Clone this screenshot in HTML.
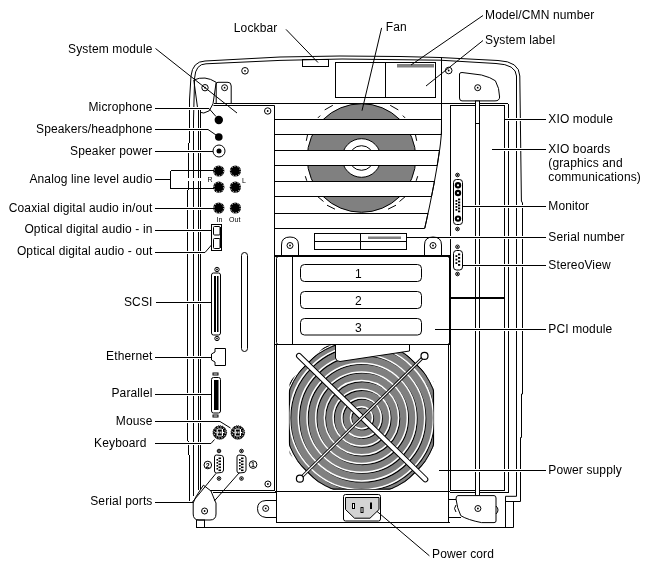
<!DOCTYPE html>
<html><head><meta charset="utf-8"><style>
html,body{margin:0;padding:0;background:#fff;}
svg{display:block;will-change:transform;}
text{font-family:"Liberation Sans",sans-serif;fill:#000;letter-spacing:0.13px;}
</style></head><body>
<svg width="650" height="568" viewBox="0 0 650 568">
<rect x="0" y="0" width="650" height="568" fill="#fff"/>
<path d="M189.5,100 L189.5,143 M188.5,143 L188.5,190 M187.5,190 L187.5,441 M188.5,441 L188.5,455 M189.5,455 L189.5,501" stroke="#000" fill="none" stroke-width="1" shape-rendering="crispEdges"/>
<path d="M189.5,100 L191,76 Q192.5,61.5 205,61 L280,57 L340,56 L400,56.5 L440,57.5 L498,60.5 Q519.5,61.5 519.8,76 L521.4,201 L522.5,203 L522.5,394 L521.5,394 L521.5,437.5 L520.5,437.5 L520.5,501.5 L505.5,501.5 M513.5,501.5 L513.5,527.5 L196.5,527.5" fill="none" stroke="#000" stroke-width="1" />
<path d="M193.5,496 L193.5,120 L194.6,78 Q195.5,64 206,63.8 L280,60.4 L342,59 L440,60.2 L496,63.5 Q516,64.5 516.5,76 L516.5,496.3" fill="none" stroke="#000" stroke-width="1" />
<path d="M516.5,496.3 L505.5,496.3 L505.5,527.5" fill="none" stroke="#000" stroke-width="1" />
<line x1="198.5" y1="107.5" x2="198.5" y2="490" stroke="#000" stroke-width="1" shape-rendering="crispEdges"/>
<line x1="200.5" y1="107.5" x2="200.5" y2="490" stroke="#000" stroke-width="1" shape-rendering="crispEdges"/>
<rect x="302.5" y="59.5" width="26" height="7" rx="0" fill="none" stroke="#000" stroke-width="1" />
<rect x="335.5" y="62.5" width="50" height="35" rx="0" fill="none" stroke="#000" stroke-width="1" />
<rect x="385.5" y="62.5" width="50" height="35" rx="0" fill="none" stroke="#000" stroke-width="1" />
<rect x="397" y="64" width="37" height="3.5" fill="#808080"/>
<circle cx="245" cy="70.8" r="3.3" fill="none" stroke="#000" stroke-width="1"/>
<circle cx="245" cy="70.8" r="0.9" fill="#000" stroke="#000" stroke-width="0"/>
<circle cx="448.7" cy="70.5" r="3.3" fill="none" stroke="#000" stroke-width="1"/>
<circle cx="448.7" cy="70.5" r="0.9" fill="#000" stroke="#000" stroke-width="0"/>
<line x1="213.5" y1="103.5" x2="508" y2="103.5" stroke="#000" stroke-width="1" shape-rendering="crispEdges"/>
<path d="M459.5,74 Q459.5,72.5 462,72.5 L481.5,75 Q491,77.5 495.4,80.8 Q499.5,88 499.6,97 Q499.5,100.9 495,100.9 L462,100.9 Q459.5,100.9 459.5,98 Z" fill="#fff" stroke="#000" stroke-width="1" />
<circle cx="477.7" cy="87.7" r="3" fill="none" stroke="#000" stroke-width="1"/>
<circle cx="477.7" cy="87.7" r="0.9" fill="#000" stroke="#000" stroke-width="0"/>
<circle cx="361.5" cy="158" r="54.3" fill="#808080" stroke="#000" stroke-width="1"/>
<line x1="324.7" y1="109.9" x2="332.8" y2="105.3" stroke="#000" stroke-width="1"/>
<line x1="398.3" y1="109.9" x2="390.2" y2="105.3" stroke="#000" stroke-width="1"/>
<line x1="317.9" y1="117.9" x2="320.2" y2="115.6" stroke="#000" stroke-width="1"/>
<line x1="405.1" y1="117.9" x2="402.8" y2="115.6" stroke="#000" stroke-width="1"/>
<line x1="307.5" y1="135" x2="306.3" y2="140.8" stroke="#000" stroke-width="1"/>
<line x1="415.5" y1="135" x2="416.7" y2="140.8" stroke="#000" stroke-width="1"/>
<line x1="305.3" y1="176.2" x2="306.8" y2="180.8" stroke="#000" stroke-width="1"/>
<line x1="417.7" y1="176.2" x2="416.2" y2="180.8" stroke="#000" stroke-width="1"/>
<line x1="316.7" y1="195.7" x2="323.5" y2="201.5" stroke="#000" stroke-width="1"/>
<line x1="406.3" y1="195.7" x2="399.5" y2="201.5" stroke="#000" stroke-width="1"/>
<line x1="327" y1="205.2" x2="335" y2="209.2" stroke="#000" stroke-width="1"/>
<line x1="396" y1="205.2" x2="388" y2="209.2" stroke="#000" stroke-width="1"/>
<circle cx="361.5" cy="158" r="19.3" fill="#fff" stroke="#000" stroke-width="1"/>
<circle cx="361.5" cy="158" r="12.3" fill="none" stroke="#000" stroke-width="1"/>
<path d="M275,119.5 L441.5,119.5 L441.4,134.5 L275,134.5" fill="#fff" stroke="#000" stroke-width="1" />
<path d="M275,150.5 L439.5,150.5 L437.2,165.5 L275,165.5" fill="#fff" stroke="#000" stroke-width="1" />
<path d="M275,181.5 L434.4,181.5 L431.5,196.5 L275,196.5" fill="#fff" stroke="#000" stroke-width="1" />
<path d="M275,213.5 L428.0,213.5 L424.7,228.5 L275,228.5" fill="#fff" stroke="#000" stroke-width="1" />
<path d="M441.5,57.5 L441.5,132 L441.5,132.0 L441.2,136.0 L440.8,140.0 L440.4,144.0 L439.9,148.0 L439.3,152.0 L438.7,156.0 L438.1,160.0 L437.5,164.0 L436.8,168.0 L436.1,172.0 L435.4,176.0 L434.7,180.0 L434.0,184.0 L433.2,188.0 L432.4,192.0 L431.6,196.0 L430.8,200.0 L430.0,204.0 L429.2,208.0 L428.3,212.0 L427.4,216.0 L426.6,220.0 L425.7,224.0 L424.8,228.0" fill="none" stroke="#000" stroke-width="1" />
<path d="M213.5,105.5 L274.5,105.5 L274.5,490.5 L202,490.5" fill="none" stroke="#000" stroke-width="1" />
<circle cx="267.7" cy="111" r="3.2" fill="none" stroke="#000" stroke-width="1"/>
<circle cx="267.7" cy="111" r="0.9" fill="#000" stroke="#000" stroke-width="0"/>
<line x1="193.8" y1="80" x2="197.5" y2="107.5" stroke="#000" stroke-width="1"/>
<path d="M193.8,80 Q205,75 216.2,82.3 L213,103.8 L209.2,110.8 L203.8,113 L200,112.3" fill="none" stroke="#000" stroke-width="1" />
<circle cx="205" cy="87.7" r="3.2" fill="none" stroke="#000" stroke-width="1"/>
<circle cx="205" cy="87.7" r="0.9" fill="#000" stroke="#000" stroke-width="0"/>
<path d="M216.2,103 L216.2,84 Q216.2,82.3 218,82.3 L228,82.3 Q231.2,82.3 231.2,86 L231.2,103" fill="none" stroke="#000" stroke-width="1" />
<circle cx="224.6" cy="87.7" r="3" fill="none" stroke="#000" stroke-width="1"/>
<circle cx="224.6" cy="87.7" r="0.9" fill="#000" stroke="#000" stroke-width="0"/>
<circle cx="218.8" cy="120" r="4.2" fill="#000" stroke="#000" stroke-width="0"/>
<circle cx="218.8" cy="137" r="3.8" fill="#000" stroke="#000" stroke-width="0"/>
<circle cx="219" cy="151" r="6" fill="#fff" stroke="#000" stroke-width="1"/>
<circle cx="219" cy="151" r="2.5" fill="#000" stroke="#000" stroke-width="0"/>
<circle cx="218.8" cy="171" r="5.6" fill="#000" stroke="#000" stroke-width="0"/>
<circle cx="218.8" cy="171" r="4.8" fill="none" stroke="#fff" stroke-width="0.9" stroke-dasharray="1.2 1.8"/>
<circle cx="235.4" cy="171" r="5.6" fill="#000" stroke="#000" stroke-width="0"/>
<circle cx="235.4" cy="171" r="4.8" fill="none" stroke="#fff" stroke-width="0.9" stroke-dasharray="1.2 1.8"/>
<circle cx="218.8" cy="187.2" r="5.6" fill="#000" stroke="#000" stroke-width="0"/>
<circle cx="218.8" cy="187.2" r="4.8" fill="none" stroke="#fff" stroke-width="0.9" stroke-dasharray="1.2 1.8"/>
<circle cx="235.4" cy="187.2" r="5.6" fill="#000" stroke="#000" stroke-width="0"/>
<circle cx="235.4" cy="187.2" r="4.8" fill="none" stroke="#fff" stroke-width="0.9" stroke-dasharray="1.2 1.8"/>
<circle cx="218.8" cy="208" r="5.6" fill="#000" stroke="#000" stroke-width="0"/>
<circle cx="218.8" cy="208" r="4.8" fill="none" stroke="#fff" stroke-width="0.9" stroke-dasharray="1.2 1.8"/>
<circle cx="235.4" cy="208" r="5.6" fill="#000" stroke="#000" stroke-width="0"/>
<circle cx="235.4" cy="208" r="4.8" fill="none" stroke="#fff" stroke-width="0.9" stroke-dasharray="1.2 1.8"/>
<g>
<text x="207.5" y="182" text-anchor="start" font-size="7">R</text>
<text x="242" y="182.5" text-anchor="start" font-size="7">L</text>
<text x="216.5" y="221.5" text-anchor="start" font-size="7">In</text>
<text x="229" y="221.5" text-anchor="start" font-size="7">Out</text>
</g>
<rect x="211.5" y="224.5" width="10" height="26" rx="0" fill="none" stroke="#000" stroke-width="1" />
<rect x="213.5" y="226.5" width="6.5" height="8.5" rx="1" fill="none" stroke="#000" stroke-width="1" />
<rect x="213.5" y="238.5" width="6.5" height="10" rx="1" fill="none" stroke="#000" stroke-width="1" />
<line x1="220.5" y1="227" x2="220.5" y2="248" stroke="#000" stroke-width="1" shape-rendering="crispEdges"/>
<rect x="241.5" y="252.5" width="6" height="99" rx="3" fill="none" stroke="#000" stroke-width="1" />
<rect x="211.5" y="273" width="9" height="62" rx="2" fill="none" stroke="#000" stroke-width="1" />
<rect x="214" y="276" width="2" height="56" fill="#000"/>
<rect x="217" y="276" width="1.5" height="56" fill="#000"/>
<circle cx="217" cy="269.5" r="2.2" fill="none" stroke="#000" stroke-width="1"/>
<circle cx="217" cy="269.5" r="0.9" fill="#000" stroke="#000" stroke-width="0"/>
<circle cx="217" cy="338.5" r="2.2" fill="none" stroke="#000" stroke-width="1"/>
<circle cx="217" cy="338.5" r="0.9" fill="#000" stroke="#000" stroke-width="0"/>
<path d="M225.5,348.5 L215,348.5 L215,352 L211.5,354 L211.5,360 L215,362 L215,365.5 L225.5,365.5 Z" fill="none" stroke="#000" stroke-width="1" />
<rect x="211.5" y="377.5" width="9" height="35.5" rx="2" fill="none" stroke="#000" stroke-width="1" />
<rect x="214" y="380" width="4.5" height="30" fill="#000"/>
<rect x="213" y="373" width="5" height="2" rx="0" fill="none" stroke="#000" stroke-width="1" />
<rect x="213" y="415" width="5" height="2" rx="0" fill="none" stroke="#000" stroke-width="1" />
<circle cx="219.8" cy="432.5" r="6.8" fill="#000" stroke="#000" stroke-width="1" stroke-dasharray="1 1"/>
<circle cx="219.8" cy="432.5" r="5.6" fill="none" stroke="#fff" stroke-width="0.9" stroke-dasharray="1.3 1.6"/>
<rect x="216.6" y="429.0" width="1.2" height="7" fill="#fff"/>
<rect x="221.8" y="429.0" width="1.2" height="7" fill="#fff"/>
<rect x="217.8" y="428.5" width="4" height="1" fill="#fff"/>
<rect x="217.8" y="435.5" width="4" height="1" fill="#fff"/>
<rect x="218.2" y="431.5" width="1.2" height="2" fill="#fff"/>
<rect x="220.2" y="431.5" width="1.2" height="2" fill="#fff"/>
<rect x="215.3" y="431.9" width="1.3" height="1.2" fill="#fff"/>
<rect x="223.0" y="431.9" width="1.3" height="1.2" fill="#fff"/>
<circle cx="237.8" cy="432.5" r="6.8" fill="#000" stroke="#000" stroke-width="1" stroke-dasharray="1 1"/>
<circle cx="237.8" cy="432.5" r="5.6" fill="none" stroke="#fff" stroke-width="0.9" stroke-dasharray="1.3 1.6"/>
<rect x="234.6" y="429.0" width="1.2" height="7" fill="#fff"/>
<rect x="239.8" y="429.0" width="1.2" height="7" fill="#fff"/>
<rect x="235.8" y="428.5" width="4" height="1" fill="#fff"/>
<rect x="235.8" y="435.5" width="4" height="1" fill="#fff"/>
<rect x="236.2" y="431.5" width="1.2" height="2" fill="#fff"/>
<rect x="238.2" y="431.5" width="1.2" height="2" fill="#fff"/>
<rect x="233.3" y="431.9" width="1.3" height="1.2" fill="#fff"/>
<rect x="241.0" y="431.9" width="1.3" height="1.2" fill="#fff"/>
<path d="M214.5,457 Q214.5,455 216.5,455 L221.5,455.5 Q223.5,456 223.5,458 L223.5,470 Q223.5,472 221.5,472.5 L216.5,473 Q214.5,473 214.5,471 Z" fill="none" stroke="#000" stroke-width="1" />
<rect x="218.5" y="457.5" width="2.5" height="1.6" fill="#000"/>
<rect x="218.5" y="460.5" width="2.5" height="1.6" fill="#000"/>
<rect x="218.5" y="463.5" width="2.5" height="1.6" fill="#000"/>
<rect x="218.5" y="466.5" width="2.5" height="1.6" fill="#000"/>
<rect x="218.5" y="469.5" width="2.5" height="1.6" fill="#000"/>
<rect x="216.5" y="459" width="1.6" height="1.6" fill="#000"/>
<rect x="216.5" y="462" width="1.6" height="1.6" fill="#000"/>
<rect x="216.5" y="465" width="1.6" height="1.6" fill="#000"/>
<rect x="216.5" y="468" width="1.6" height="1.6" fill="#000"/>
<circle cx="219" cy="451" r="1.8" fill="none" stroke="#000" stroke-width="1"/>
<circle cx="219" cy="451" r="0.9" fill="#000" stroke="#000" stroke-width="0"/>
<circle cx="219" cy="478.5" r="1.8" fill="none" stroke="#000" stroke-width="1"/>
<circle cx="219" cy="478.5" r="0.9" fill="#000" stroke="#000" stroke-width="0"/>
<path d="M237.0,457 Q237.0,455 239.0,455 L244.0,455.5 Q246.0,456 246.0,458 L246.0,470 Q246.0,472 244.0,472.5 L239.0,473 Q237.0,473 237.0,471 Z" fill="none" stroke="#000" stroke-width="1" />
<rect x="241.0" y="457.5" width="2.5" height="1.6" fill="#000"/>
<rect x="241.0" y="460.5" width="2.5" height="1.6" fill="#000"/>
<rect x="241.0" y="463.5" width="2.5" height="1.6" fill="#000"/>
<rect x="241.0" y="466.5" width="2.5" height="1.6" fill="#000"/>
<rect x="241.0" y="469.5" width="2.5" height="1.6" fill="#000"/>
<rect x="239.0" y="459" width="1.6" height="1.6" fill="#000"/>
<rect x="239.0" y="462" width="1.6" height="1.6" fill="#000"/>
<rect x="239.0" y="465" width="1.6" height="1.6" fill="#000"/>
<rect x="239.0" y="468" width="1.6" height="1.6" fill="#000"/>
<circle cx="241.5" cy="451" r="1.8" fill="none" stroke="#000" stroke-width="1"/>
<circle cx="241.5" cy="451" r="0.9" fill="#000" stroke="#000" stroke-width="0"/>
<circle cx="241.5" cy="478.5" r="1.8" fill="none" stroke="#000" stroke-width="1"/>
<circle cx="241.5" cy="478.5" r="0.9" fill="#000" stroke="#000" stroke-width="0"/>
<circle cx="207.8" cy="465" r="3.8" fill="none" stroke="#000" stroke-width="1"/>
<text x="207.8" y="467.5" text-anchor="middle" font-size="7" font-weight="bold">2</text>
<circle cx="253.1" cy="464.6" r="3.8" fill="none" stroke="#000" stroke-width="1"/>
<text x="253.1" y="467.1" text-anchor="middle" font-size="7" font-weight="bold">1</text>
<circle cx="267.9" cy="484" r="3" fill="none" stroke="#000" stroke-width="1"/>
<circle cx="267.9" cy="484" r="0.9" fill="#000" stroke="#000" stroke-width="0"/>
<path d="M195.6,497.3 L203.4,485.2 L211,491 L215,501 L216,503 L216,514 Q216,520 210,520 L199,520 Q193.2,520 193.2,514 L193.2,503 Z" fill="#fff" stroke="#000" stroke-width="1" />
<circle cx="204.6" cy="511" r="3" fill="none" stroke="#000" stroke-width="1"/>
<circle cx="204.6" cy="511" r="0.9" fill="#000" stroke="#000" stroke-width="0"/>
<rect x="196.5" y="520" width="8" height="7.5" rx="0" fill="none" stroke="#000" stroke-width="1" />
<line x1="213" y1="492.5" x2="276" y2="492.5" stroke="#000" stroke-width="1" shape-rendering="crispEdges"/>
<rect x="314.5" y="233.5" width="92" height="16" rx="0" fill="none" stroke="#000" stroke-width="1" />
<line x1="314.5" y1="241.5" x2="406.5" y2="241.5" stroke="#000" stroke-width="1" shape-rendering="crispEdges"/>
<line x1="360.5" y1="233.5" x2="360.5" y2="249.5" stroke="#000" stroke-width="1" shape-rendering="crispEdges"/>
<rect x="368" y="236.5" width="33" height="2.5" fill="#808080"/>
<path d="M281.5,255 L281.5,245 Q281.5,237 290,237 Q298.5,237 298.5,245 L298.5,255" fill="#fff" stroke="#000" stroke-width="1" />
<circle cx="290" cy="245.5" r="3" fill="none" stroke="#000" stroke-width="1"/>
<circle cx="290" cy="245.5" r="0.9" fill="#000" stroke="#000" stroke-width="0"/>
<path d="M424.5,255 L424.5,245 Q424.5,237 433,237 Q441.5,237 441.5,245 L441.5,255" fill="#fff" stroke="#000" stroke-width="1" />
<circle cx="433" cy="245.5" r="3" fill="none" stroke="#000" stroke-width="1"/>
<circle cx="433" cy="245.5" r="0.9" fill="#000" stroke="#000" stroke-width="0"/>
<line x1="274.5" y1="256" x2="449.5" y2="256" stroke="#000" stroke-width="2" shape-rendering="crispEdges"/>
<rect x="276.5" y="256.5" width="173" height="88" rx="2" fill="none" stroke="#000" stroke-width="1" />
<line x1="292.5" y1="256" x2="292.5" y2="344" stroke="#000" stroke-width="1" shape-rendering="crispEdges"/>
<rect x="300.5" y="264.5" width="121" height="17.0" rx="4" fill="none" stroke="#000" stroke-width="1" />
<text x="358.5" y="278.0" text-anchor="middle" font-size="12">1</text>
<rect x="300.5" y="291.5" width="121" height="17.0" rx="4" fill="none" stroke="#000" stroke-width="1" />
<text x="358.5" y="305.0" text-anchor="middle" font-size="12">2</text>
<rect x="300.5" y="318.5" width="121" height="16.5" rx="4" fill="none" stroke="#000" stroke-width="1" />
<text x="358.5" y="331.75" text-anchor="middle" font-size="12">3</text>
<line x1="274.5" y1="344.5" x2="449.5" y2="344.5" stroke="#000" stroke-width="1" shape-rendering="crispEdges"/>
<line x1="274.5" y1="255" x2="274.5" y2="490.5" stroke="#000" stroke-width="1" shape-rendering="crispEdges"/>
<line x1="450" y1="255" x2="450" y2="344" stroke="#000" stroke-width="2" shape-rendering="crispEdges"/>
<line x1="448.5" y1="344" x2="448.5" y2="522.5" stroke="#000" stroke-width="1" shape-rendering="crispEdges"/>
<line x1="276.5" y1="344" x2="276.5" y2="522.5" stroke="#000" stroke-width="1" shape-rendering="crispEdges"/>
<defs><clipPath id="psclip"><polygon points="325.5,345.5 397.5,345.5 433.5,381.5 433.5,453.9 398.2,489.2 324.8,489.2 289.5,453.9 289.5,381.5"/></clipPath><clipPath id="psclip2"><circle cx="361.5" cy="417.7" r="77.5"/></clipPath></defs>
<g clip-path="url(#psclip2)"><polygon points="325.5,345.5 397.5,345.5 433.5,381.5 433.5,453.9 398.2,489.2 324.8,489.2 289.5,453.9 289.5,381.5" fill="#808080" stroke="#000" stroke-width="1.2"/></g>
<circle cx="361.5" cy="417.7" r="77" fill="none" stroke="#000" stroke-width="1" clip-path="url(#psclip)"/>
<g clip-path="url(#psclip)">
<circle cx="362.6" cy="418.8" r="11.0" fill="none" stroke="#000" stroke-width="1.1"/>
<circle cx="361.5" cy="417.7" r="11.0" fill="none" stroke="#fff" stroke-width="1.5"/>
<circle cx="362.6" cy="418.8" r="19.7" fill="none" stroke="#000" stroke-width="1.1"/>
<circle cx="361.5" cy="417.7" r="19.7" fill="none" stroke="#fff" stroke-width="1.5"/>
<circle cx="362.6" cy="418.8" r="28.4" fill="none" stroke="#000" stroke-width="1.1"/>
<circle cx="361.5" cy="417.7" r="28.4" fill="none" stroke="#fff" stroke-width="1.5"/>
<circle cx="362.6" cy="418.8" r="37.1" fill="none" stroke="#000" stroke-width="1.1"/>
<circle cx="361.5" cy="417.7" r="37.1" fill="none" stroke="#fff" stroke-width="1.5"/>
<circle cx="362.6" cy="418.8" r="45.8" fill="none" stroke="#000" stroke-width="1.1"/>
<circle cx="361.5" cy="417.7" r="45.8" fill="none" stroke="#fff" stroke-width="1.5"/>
<circle cx="362.6" cy="418.8" r="54.5" fill="none" stroke="#000" stroke-width="1.1"/>
<circle cx="361.5" cy="417.7" r="54.5" fill="none" stroke="#fff" stroke-width="1.5"/>
<circle cx="362.6" cy="418.8" r="63.2" fill="none" stroke="#000" stroke-width="1.1"/>
<circle cx="361.5" cy="417.7" r="63.2" fill="none" stroke="#fff" stroke-width="1.5"/>
<circle cx="362.6" cy="418.8" r="71.9" fill="none" stroke="#000" stroke-width="1.1"/>
<circle cx="361.5" cy="417.7" r="71.9" fill="none" stroke="#fff" stroke-width="1.5"/>
<circle cx="362.6" cy="418.8" r="80.6" fill="none" stroke="#000" stroke-width="1.1"/>
<circle cx="361.5" cy="417.7" r="80.6" fill="none" stroke="#fff" stroke-width="1.5"/>
</g>
<path d="M335.5,345 L335.5,358 Q336,361.5 340,361.5 L409.5,351 L409.5,345" fill="#fff" stroke="#000" stroke-width="1" />
<line x1="299" y1="355.9" x2="425.3" y2="479.3" stroke="#000" stroke-width="6" stroke-linecap="round"/>
<line x1="299" y1="355.9" x2="425.3" y2="479.3" stroke="#fff" stroke-width="4" stroke-linecap="round"/>
<line x1="424.5" y1="355.9" x2="299.9" y2="478.7" stroke="#000" stroke-width="3"/>
<line x1="424.5" y1="355.9" x2="299.9" y2="478.7" stroke="#fff" stroke-width="1.2"/>
<circle cx="424.5" cy="355.9" r="3.5" fill="#fff" stroke="#000" stroke-width="1.2"/>
<circle cx="299.9" cy="478.7" r="3.5" fill="#fff" stroke="#000" stroke-width="1.2"/>
<line x1="274.5" y1="491.5" x2="449.5" y2="491.5" stroke="#000" stroke-width="1" shape-rendering="crispEdges"/>
<line x1="276.5" y1="522.5" x2="449.5" y2="522.5" stroke="#000" stroke-width="1" shape-rendering="crispEdges"/>
<path d="M276,500.5 L266,500.5 Q257.5,501 257.5,508.6 Q257.5,516.5 266,517.5 L276,517.5" fill="#fff" stroke="#000" stroke-width="1" />
<circle cx="265.7" cy="508.4" r="3" fill="none" stroke="#000" stroke-width="1"/>
<circle cx="265.7" cy="508.4" r="0.9" fill="#000" stroke="#000" stroke-width="0"/>
<rect x="343.5" y="494.5" width="37" height="26.5" rx="2" fill="none" stroke="#000" stroke-width="1" />
<path d="M345.5,497.5 L379,497.5 L379,509.5 L370,518.2 L354.5,518.2 L345.5,509.5 Z" fill="#d4d4d4" stroke="#000" stroke-width="1" />
<rect x="352.5" y="503.5" width="2" height="5" fill="#fff" stroke="#000" stroke-width="1"/>
<rect x="361" y="507.5" width="2" height="5" fill="#fff" stroke="#000" stroke-width="1"/>
<rect x="370" y="502.5" width="2" height="6.5" fill="#000"/>
<rect x="450.5" y="105.5" width="54" height="385" rx="0" fill="none" stroke="#000" stroke-width="1" />
<line x1="508.5" y1="103.5" x2="508.5" y2="492.5" stroke="#000" stroke-width="1" shape-rendering="crispEdges"/>
<line x1="449.5" y1="492.5" x2="508.5" y2="492.5" stroke="#000" stroke-width="1" shape-rendering="crispEdges"/>
<rect x="475.5" y="101" width="4" height="394.5" fill="#fff" stroke="#000" stroke-width="1"/>
<line x1="450.5" y1="298" x2="504.5" y2="298" stroke="#000" stroke-width="2" shape-rendering="crispEdges"/>
<line x1="475.5" y1="123.5" x2="479.5" y2="123.5" stroke="#000" stroke-width="1" shape-rendering="crispEdges"/>
<rect x="453.5" y="179.5" width="9" height="45" rx="3" fill="none" stroke="#000" stroke-width="1" />
<circle cx="458" cy="185.3" r="3.2" fill="#000" stroke="#000" stroke-width="0"/>
<circle cx="458" cy="185.3" r="1.1" fill="#fff" stroke="#000" stroke-width="0"/>
<circle cx="458" cy="193" r="3.2" fill="#000" stroke="#000" stroke-width="0"/>
<circle cx="458" cy="193" r="1.1" fill="#fff" stroke="#000" stroke-width="0"/>
<circle cx="458" cy="218.6" r="3.2" fill="#000" stroke="#000" stroke-width="0"/>
<circle cx="458" cy="218.6" r="1.1" fill="#fff" stroke="#000" stroke-width="0"/>
<rect x="458" y="198.5" width="2.2" height="1.8" fill="#000"/>
<rect x="458" y="201.5" width="2.2" height="1.8" fill="#000"/>
<rect x="458" y="204.5" width="2.2" height="1.8" fill="#000"/>
<rect x="458" y="207.5" width="2.2" height="1.8" fill="#000"/>
<rect x="458" y="210.5" width="2.2" height="1.8" fill="#000"/>
<rect x="455.5" y="200" width="1.8" height="1.8" fill="#000"/>
<rect x="455.5" y="203" width="1.8" height="1.8" fill="#000"/>
<rect x="455.5" y="206" width="1.8" height="1.8" fill="#000"/>
<rect x="455.5" y="209" width="1.8" height="1.8" fill="#000"/>
<circle cx="457.5" cy="175" r="1.8" fill="none" stroke="#000" stroke-width="1"/>
<circle cx="457.5" cy="175" r="0.9" fill="#000" stroke="#000" stroke-width="0"/>
<circle cx="457.5" cy="229" r="1.8" fill="none" stroke="#000" stroke-width="1"/>
<circle cx="457.5" cy="229" r="0.9" fill="#000" stroke="#000" stroke-width="0"/>
<rect x="453.5" y="250.5" width="9" height="19.5" rx="3" fill="none" stroke="#000" stroke-width="1" />
<rect x="458" y="253.5" width="2.2" height="1.8" fill="#000"/>
<rect x="458" y="257.0" width="2.2" height="1.8" fill="#000"/>
<rect x="458" y="260.5" width="2.2" height="1.8" fill="#000"/>
<rect x="458" y="264.0" width="2.2" height="1.8" fill="#000"/>
<rect x="455.5" y="255.2" width="1.8" height="1.8" fill="#000"/>
<rect x="455.5" y="258.7" width="1.8" height="1.8" fill="#000"/>
<rect x="455.5" y="262.2" width="1.8" height="1.8" fill="#000"/>
<circle cx="457.5" cy="246.8" r="1.8" fill="none" stroke="#000" stroke-width="1"/>
<circle cx="457.5" cy="246.8" r="0.9" fill="#000" stroke="#000" stroke-width="0"/>
<circle cx="457.5" cy="274" r="1.8" fill="none" stroke="#000" stroke-width="1"/>
<circle cx="457.5" cy="274" r="0.9" fill="#000" stroke="#000" stroke-width="0"/>
<path d="M458,495.6 L494,495.6 Q496,495.6 496,498 L496,521 Q496,522.6 494,522.6 L481.5,522.6 Q468,520 460.8,515.7 Q457,508 456,499 Q456,495.6 458,495.6 Z" fill="#fff" stroke="#000" stroke-width="1" />
<path d="M456,505 Q453,508.5 456,512" fill="none" stroke="#000" stroke-width="1" />
<path d="M496,506 Q500,510 496,514" fill="none" stroke="#000" stroke-width="1" />
<line x1="448" y1="499.8" x2="456" y2="499.8" stroke="#000" stroke-width="1" shape-rendering="crispEdges"/>
<line x1="448" y1="517" x2="461" y2="517" stroke="#000" stroke-width="1" shape-rendering="crispEdges"/>
<circle cx="477.9" cy="508.5" r="3" fill="none" stroke="#000" stroke-width="1"/>
<circle cx="477.9" cy="508.5" r="0.9" fill="#000" stroke="#000" stroke-width="0"/>
<rect x="185" y="107.0" width="18" height="3" fill="#fff" shape-rendering="crispEdges"/>
<rect x="185" y="128.0" width="18" height="3" fill="#fff" shape-rendering="crispEdges"/>
<rect x="185" y="150.0" width="18" height="3" fill="#fff" shape-rendering="crispEdges"/>
<rect x="185" y="178.0" width="18" height="3" fill="#fff" shape-rendering="crispEdges"/>
<rect x="185" y="207.0" width="18" height="3" fill="#fff" shape-rendering="crispEdges"/>
<rect x="185" y="229.0" width="18" height="3" fill="#fff" shape-rendering="crispEdges"/>
<rect x="185" y="251.0" width="18" height="3" fill="#fff" shape-rendering="crispEdges"/>
<rect x="185" y="301.0" width="18" height="3" fill="#fff" shape-rendering="crispEdges"/>
<rect x="185" y="356.0" width="18" height="3" fill="#fff" shape-rendering="crispEdges"/>
<rect x="185" y="393.0" width="18" height="3" fill="#fff" shape-rendering="crispEdges"/>
<rect x="185" y="420.0" width="18" height="3" fill="#fff" shape-rendering="crispEdges"/>
<rect x="185" y="442.0" width="18" height="3" fill="#fff" shape-rendering="crispEdges"/>
<rect x="180" y="501.0" width="10" height="3" fill="#fff" shape-rendering="crispEdges"/>
<rect x="445" y="236.0" width="81" height="3" fill="#fff" shape-rendering="crispEdges"/>
<rect x="470" y="205.0" width="56" height="3" fill="#fff" shape-rendering="crispEdges"/>
<rect x="470" y="264.0" width="56" height="3" fill="#fff" shape-rendering="crispEdges"/>
<rect x="505" y="118.0" width="21" height="3" fill="#fff" shape-rendering="crispEdges"/>
<rect x="500" y="148.0" width="26" height="3" fill="#fff" shape-rendering="crispEdges"/>
<rect x="452" y="328.0" width="74" height="3" fill="#fff" shape-rendering="crispEdges"/>
<rect x="452" y="469.0" width="74" height="3" fill="#fff" shape-rendering="crispEdges"/>
<line x1="155.5" y1="48.5" x2="237" y2="113" stroke="#000" stroke-width="1"/>
<line x1="155" y1="108.5" x2="209" y2="108.5" stroke="#000" stroke-width="1" shape-rendering="crispEdges"/>
<line x1="209" y1="108.5" x2="216" y2="116.5" stroke="#000" stroke-width="1"/>
<line x1="155" y1="129.5" x2="208" y2="129.5" stroke="#000" stroke-width="1" shape-rendering="crispEdges"/>
<line x1="208" y1="129.5" x2="216" y2="135" stroke="#000" stroke-width="1"/>
<line x1="155" y1="151.5" x2="213" y2="151.5" stroke="#000" stroke-width="1" shape-rendering="crispEdges"/>
<line x1="155" y1="179.5" x2="170.5" y2="179.5" stroke="#000" stroke-width="1" shape-rendering="crispEdges"/>
<line x1="170.5" y1="170.5" x2="170.5" y2="188.5" stroke="#000" stroke-width="1" shape-rendering="crispEdges"/>
<line x1="170.5" y1="170.5" x2="214" y2="170.5" stroke="#000" stroke-width="1" shape-rendering="crispEdges"/>
<line x1="170.5" y1="188" x2="214" y2="188" stroke="#000" stroke-width="1" shape-rendering="crispEdges"/>
<line x1="155" y1="208.5" x2="214" y2="208.5" stroke="#000" stroke-width="1" shape-rendering="crispEdges"/>
<line x1="155" y1="230.5" x2="211.5" y2="230.5" stroke="#000" stroke-width="1" shape-rendering="crispEdges"/>
<line x1="155" y1="252.5" x2="205" y2="252.5" stroke="#000" stroke-width="1" shape-rendering="crispEdges"/>
<line x1="205" y1="252.5" x2="211.5" y2="245" stroke="#000" stroke-width="1"/>
<line x1="155.5" y1="302.5" x2="211" y2="302.5" stroke="#000" stroke-width="1" shape-rendering="crispEdges"/>
<line x1="155" y1="357.5" x2="211" y2="357.5" stroke="#000" stroke-width="1" shape-rendering="crispEdges"/>
<line x1="155" y1="394.5" x2="211" y2="394.5" stroke="#000" stroke-width="1" shape-rendering="crispEdges"/>
<line x1="155" y1="421.5" x2="220" y2="421.5" stroke="#000" stroke-width="1" shape-rendering="crispEdges"/>
<line x1="220" y1="421.5" x2="230.5" y2="428" stroke="#000" stroke-width="1"/>
<line x1="155" y1="443.5" x2="211" y2="443.5" stroke="#000" stroke-width="1" shape-rendering="crispEdges"/>
<line x1="211" y1="443.5" x2="214.5" y2="439.5" stroke="#000" stroke-width="1"/>
<line x1="155" y1="502.5" x2="192.5" y2="502.5" stroke="#000" stroke-width="1" shape-rendering="crispEdges"/>
<line x1="192.5" y1="502" x2="216" y2="473.4" stroke="#000" stroke-width="1"/>
<line x1="214.3" y1="501" x2="239.4" y2="472.6" stroke="#000" stroke-width="1"/>
<line x1="286" y1="29.4" x2="318" y2="62.5" stroke="#000" stroke-width="1"/>
<line x1="381.6" y1="27.9" x2="362" y2="110.7" stroke="#000" stroke-width="1"/>
<line x1="411" y1="65" x2="483" y2="15.5" stroke="#000" stroke-width="1"/>
<line x1="426" y1="86" x2="483" y2="40.5" stroke="#000" stroke-width="1"/>
<line x1="504.5" y1="119.5" x2="545.5" y2="119.5" stroke="#000" stroke-width="1" shape-rendering="crispEdges"/>
<line x1="492" y1="149.5" x2="545.5" y2="149.5" stroke="#000" stroke-width="1" shape-rendering="crispEdges"/>
<line x1="462" y1="206.5" x2="545.5" y2="206.5" stroke="#000" stroke-width="1" shape-rendering="crispEdges"/>
<line x1="406" y1="237.5" x2="545.5" y2="237.5" stroke="#000" stroke-width="1" shape-rendering="crispEdges"/>
<line x1="462" y1="265.5" x2="545.5" y2="265.5" stroke="#000" stroke-width="1" shape-rendering="crispEdges"/>
<line x1="435" y1="329.5" x2="545.5" y2="329.5" stroke="#000" stroke-width="1" shape-rendering="crispEdges"/>
<line x1="438.5" y1="470.5" x2="545.5" y2="470.5" stroke="#000" stroke-width="1" shape-rendering="crispEdges"/>
<line x1="429.4" y1="555.8" x2="377" y2="511.4" stroke="#000" stroke-width="1"/>
<text x="152.5" y="52.5" text-anchor="end" font-size="12">System module</text>
<text x="152.5" y="111" text-anchor="end" font-size="12">Microphone</text>
<text x="152.5" y="132.5" text-anchor="end" font-size="12">Speakers/headphone</text>
<text x="152.5" y="155" text-anchor="end" font-size="12">Speaker power</text>
<text x="152.5" y="182.75" text-anchor="end" font-size="12">Analog line level audio</text>
<text x="152.5" y="211.5" text-anchor="end" font-size="12">Coaxial digital audio in/out</text>
<text x="152.5" y="232.75" text-anchor="end" font-size="12">Optical digital audio - in</text>
<text x="152.5" y="254.5" text-anchor="end" font-size="12">Optical digital audio - out</text>
<text x="152.5" y="306" text-anchor="end" font-size="12">SCSI</text>
<text x="152.5" y="360" text-anchor="end" font-size="12">Ethernet</text>
<text x="152.5" y="397" text-anchor="end" font-size="12">Parallel</text>
<text x="152.5" y="424.5" text-anchor="end" font-size="12">Mouse</text>
<text x="152.5" y="505" text-anchor="end" font-size="12">Serial ports</text>
<text x="146.5" y="446.5" text-anchor="end" font-size="12">Keyboard</text>
<text x="233.8" y="31.6" text-anchor="start" font-size="12">Lockbar</text>
<text x="385.8" y="31" text-anchor="start" font-size="12">Fan</text>
<text x="485" y="19" text-anchor="start" font-size="12">Model/CMN number</text>
<text x="485" y="43.9" text-anchor="start" font-size="12">System label</text>
<text x="548.3" y="123.1" text-anchor="start" font-size="12">XIO module</text>
<text x="548.3" y="153.2" text-anchor="start" font-size="12">XIO boards</text>
<text x="548.3" y="167.2" text-anchor="start" font-size="12">(graphics and</text>
<text x="548.3" y="181.3" text-anchor="start" font-size="12">communications)</text>
<text x="548.3" y="210" text-anchor="start" font-size="12">Monitor</text>
<text x="548.3" y="240.8" text-anchor="start" font-size="12">Serial number</text>
<text x="548.3" y="268.8" text-anchor="start" font-size="12">StereoView</text>
<text x="548.3" y="333.1" text-anchor="start" font-size="12">PCI module</text>
<text x="548.3" y="474" text-anchor="start" font-size="12">Power supply</text>
<text x="432" y="557.7" text-anchor="start" font-size="12">Power cord</text>
</svg></body></html>
